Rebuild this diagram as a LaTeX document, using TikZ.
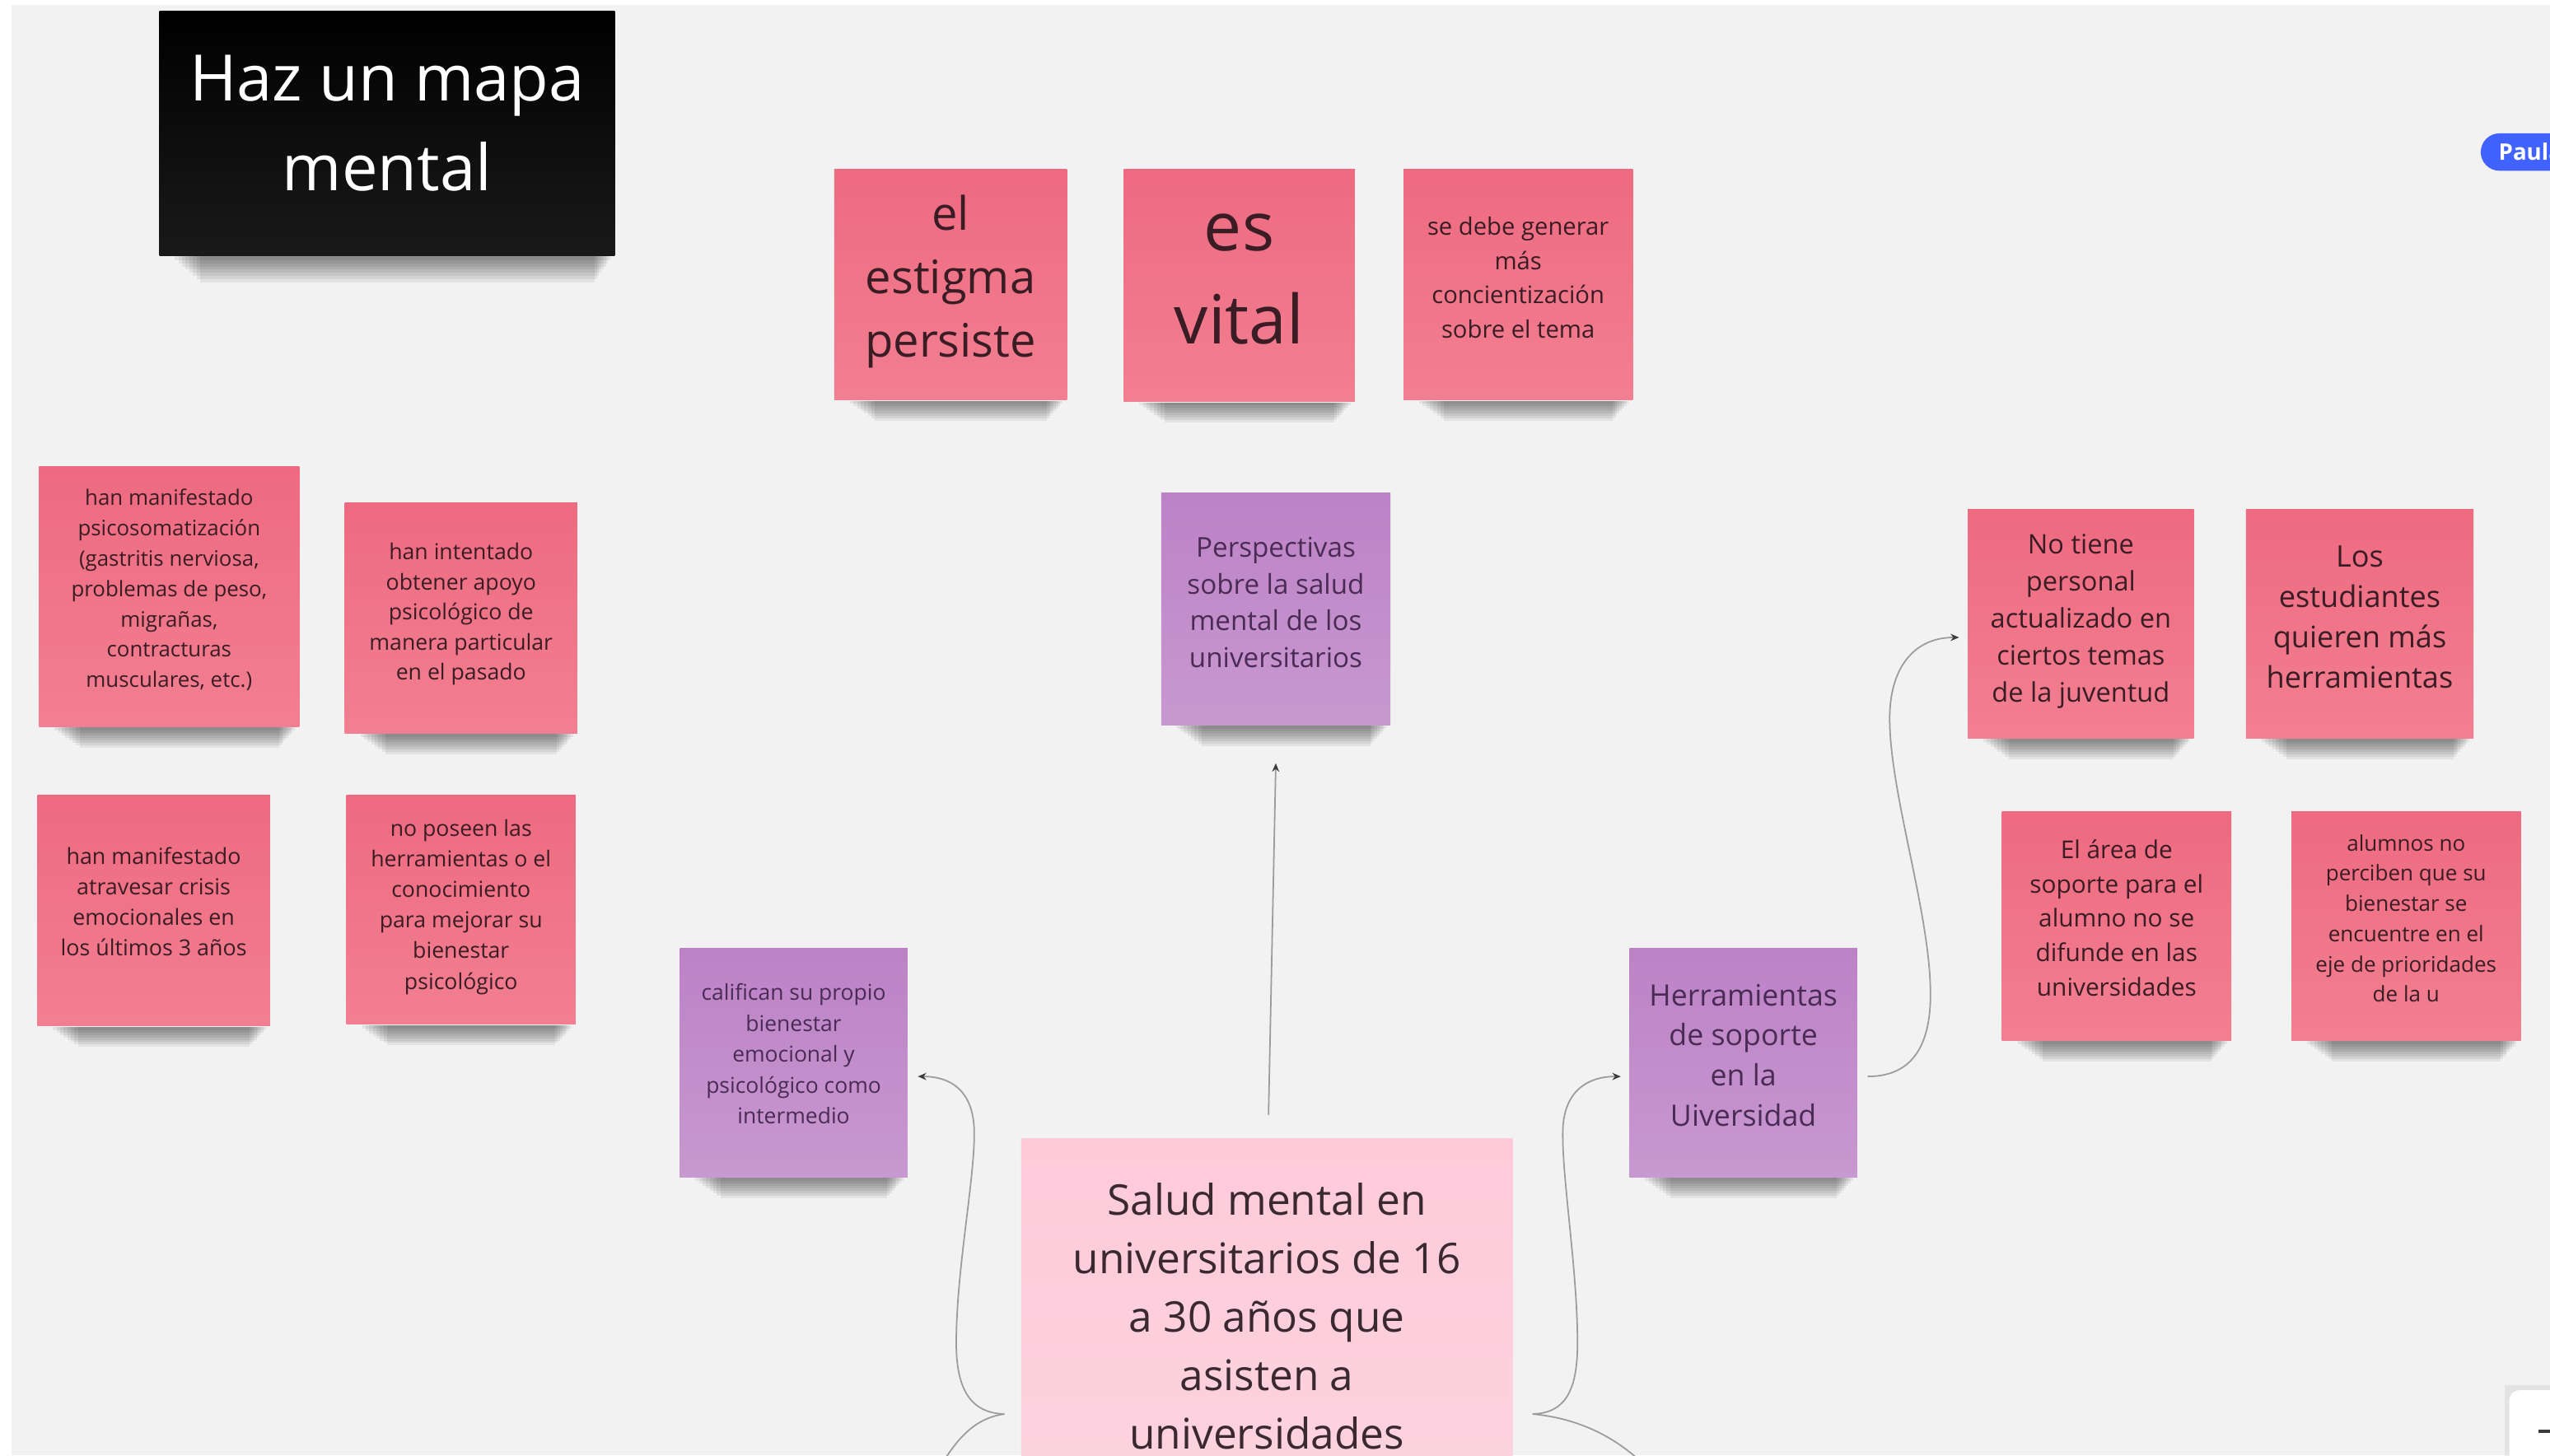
\documentclass[tikz,border=0pt]{standalone}
\usepackage{fontspec}
\setmainfont{Open Sans}
\usetikzlibrary{arrows.meta,calc}

\definecolor{board}{HTML}{F2F2F2}
\definecolor{redT}{HTML}{EE6A80}
\definecolor{redB}{HTML}{F27F91}
\definecolor{redInk}{HTML}{3A1C24}
\definecolor{vioT}{HTML}{BC82C6}
\definecolor{vioB}{HTML}{C898D0}
\definecolor{vioInk}{HTML}{4A2B55}
\definecolor{blushT}{HTML}{FDCADA}
\definecolor{blushB}{HTML}{FDD3E0}
\definecolor{coreInk}{HTML}{3A2A30}
\definecolor{lineGray}{HTML}{9C9C9C}
\definecolor{tipDark}{HTML}{3C3C3C}
\definecolor{badge}{HTML}{4262FF}

% centred lines of a sticky note, raised by #1 without changing the box size
\newcommand\card[2]{\raisebox{#1}[\height][\depth]{\begin{tabular}{@{}c@{}}#2\end{tabular}}}

% soft shadow under the lower edge of a sticky note
\newcommand\stickshadow[2][1]{%
  \foreach \k in {0,...,7}{%
    \fill[black, opacity=0.062]
      ($(#2.south west)+(10+2.2*\k,0)$) rectangle
      ($(#2.south east)+(-3-1.4*\k,{#1*(2+1.5*\k)})$);}}

\tikzset{
  note/.style={rectangle, inner sep=0pt},
  rednote/.style={note, top color=redT, bottom color=redB, text=redInk},
  violetnote/.style={note, top color=vioT, bottom color=vioB, text=vioInk},
  blushnote/.style={note, top color=blushT, bottom color=blushB, text=coreInk},
  titlebox/.style={note, top color=black, bottom color=black!90, text=white},
  sq/.style 2 args={minimum width=#1, minimum height=#2},
  fs/.style 2 args={font=\fontsize{#1}{#2}\selectfont},
  conn/.style={draw=lineGray, line width=0.45pt},
  arrowend/.style={-{Stealth[length=2.6pt,width=2.2pt,color=tipDark]}},
}

\begin{document}
\begin{tikzpicture}[x=0.5pt, y=-0.5pt]
  \useasboundingbox (0,0) rectangle (1568,895);
  \clip (0,0) rectangle (1568,895);

  % board
  \fill[white] (0,0) rectangle (1568,895);
  \fill[board] (7,3) rectangle (1568,895);

  % heading card
  \node[titlebox, sq={140pt}{75pt}, fs={19.7}{27.5}] (title) at (238,82) {\card{1.75pt}{Haz un mapa\\mental}};

  % top row
  \node[rednote, sq={71.5pt}{71pt}, fs={14.2}{19.5}] (stigma) at (584.5,175) {\card{1.25pt}{el\\estigma\\persiste}};
  \node[rednote, sq={71pt}{71.5pt}, fs={20.8}{28.5}] (vital) at (762,175.5) {\card{2pt}{es\\vital}};
  \node[rednote, sq={70.5pt}{71pt}, fs={7.4}{10.5}] (aware) at (933.5,175) {\card{1.5pt}{se debe generar\\más\\concientización\\sobre el tema}};

  % perspectives branch
  \node[violetnote, sq={70.5pt}{71.5pt}, fs={8.4}{11.25}] (persp) at (784.5,374.5) {\card{1.25pt}{Perspectivas\\sobre la salud\\mental de los\\universitarios}};

  % left cluster
  \node[rednote, sq={80pt}{80pt}, fs={6.55}{9.35}] (psico) at (104,367) {\card{2pt}{han manifestado\\psicosomatización\\(gastritis nerviosa,\\problemas de peso,\\migrañas,\\contracturas\\musculares, etc.)}};
  \node[rednote, sq={71.5pt}{71pt}, fs={6.75}{9.25}] (apoyo) at (283.5,380) {\card{1.25pt}{han intentado\\obtener apoyo\\psicológico de\\manera particular\\en el pasado}};
  \node[rednote, sq={71.5pt}{71pt}, fs={6.8}{9.33}] (crisis) at (94.5,560) {\card{2pt}{han manifestado\\atravesar crisis\\emocionales en\\los últimos 3 años}};
  \node[rednote, sq={70.5pt}{70.5pt}, fs={6.75}{9.4}] (tools) at (283.5,559.5) {\card{1pt}{no poseen las\\herramientas o el\\conocimiento\\para mejorar su\\bienestar\\psicológico}};

  % self rating
  \node[violetnote, sq={70pt}{70.5pt}, fs={6.7}{9.5}] (califican) at (488,653.5) {\card{2pt}{califican su propio\\bienestar\\emocional y\\psicológico como\\intermedio}};

  % central topic
  \node[blushnote, sq={151pt}{110pt}, fs={13}{18}] (core) at (779,810) {\card{-1pt}{Salud mental en\\universitarios de 16\\a 30 años que\\asisten a\\universidades}};

  % support branch
  \node[violetnote, sq={70pt}{70.5pt}, fs={9.05}{12.35}] (soporte) at (1072,653.5) {\card{1.5pt}{Herramientas\\de soporte\\en la\\Uiversidad}};
  \node[rednote, sq={69.5pt}{70.5pt}, fs={8.25}{11.4}] (personal) at (1279.5,383.5) {\card{1pt}{No tiene\\personal\\actualizado en\\ciertos temas\\de la juventud}};
  \node[rednote, sq={70pt}{70.5pt}, fs={9.15}{12.35}] (quieren) at (1451,383.5) {\card{1.25pt}{Los\\estudiantes\\quieren más\\herramientas}};
  \node[rednote, sq={70.5pt}{70.5pt}, fs={7.55}{10.6}] (area) at (1301.5,569.5) {\card{1.75pt}{El área de\\soporte para el\\alumno no se\\difunde en las\\universidades}};
  \node[rednote, sq={70.5pt}{70.5pt}, fs={6.6}{9.3}] (alumnos) at (1479.5,569.5) {\card{1.75pt}{alumnos no\\perciben que su\\bienestar se\\encuentre en el\\eje de prioridades\\de la u}};

  % shadows under the notes
  \stickshadow[1.3]{title}
  \foreach \n in {stigma,vital,aware,persp,psico,apoyo,crisis,tools,califican,soporte,personal,quieren,area,alumnos}
    {\stickshadow{\n}}

  % connectors
  \coordinate (braceL) at ($(core.north west)+(-10,170)$);
  \coordinate (braceR) at ($(core.north east)+(12,170)$);
  \coordinate (offL) at (576,906);
  \coordinate (offR) at (1016,906);

  \draw[conn, arrowend] ($(core.north)+(1,-14)$) -- ($(persp.south)+(0,23)$);

  \draw[conn, arrowend] (braceL) .. controls (598,869) and (588,856) .. (588,826)
    .. controls (588,780) and (600,722) .. (599,694)
    .. controls (598,672) and (586,662) .. ($(califican.east)+(6,8.5)$);
  \draw[conn] (braceL) .. controls (600,872) and (588,884) .. (offL);

  \draw[conn, arrowend] (braceR) .. controls (962,869) and (970,856) .. (970,826)
    .. controls (970,780) and (960,722) .. (961,694)
    .. controls (962,672) and (975,662) .. ($(soporte.west)+(-5,8.5)$);
  \draw[conn] (braceR) .. controls (968,872) and (994,882) .. (offR);

  \draw[conn, arrowend] ($(soporte.east)+(6,8.5)$) .. controls (1172,662) and (1188,648) .. (1187,608)
    .. controls (1186,560) and (1163,490) .. (1162,445)
    .. controls (1161,412) and (1176,392) .. ($(personal.west)+(-5,8.5)$);

  % collaborator badge
  \node[fill=badge, text=white, rounded corners=5.75pt, minimum height=11.5pt,
        inner xsep=5.5pt, inner ysep=0pt, anchor=west, font=\fontsize{7}{8}\selectfont\bfseries]
        (paula) at (1525,93.5) {Paula};

  % zoom control corner
  \fill[black, opacity=0.06] (1540,852) rectangle (1575,900);
  \fill[white, rounded corners=3pt] (1543,855) rectangle (1580,905);
  \draw[tipDark, line width=1pt] (1561,880) -- (1570,880);
\end{tikzpicture}
\end{document}
